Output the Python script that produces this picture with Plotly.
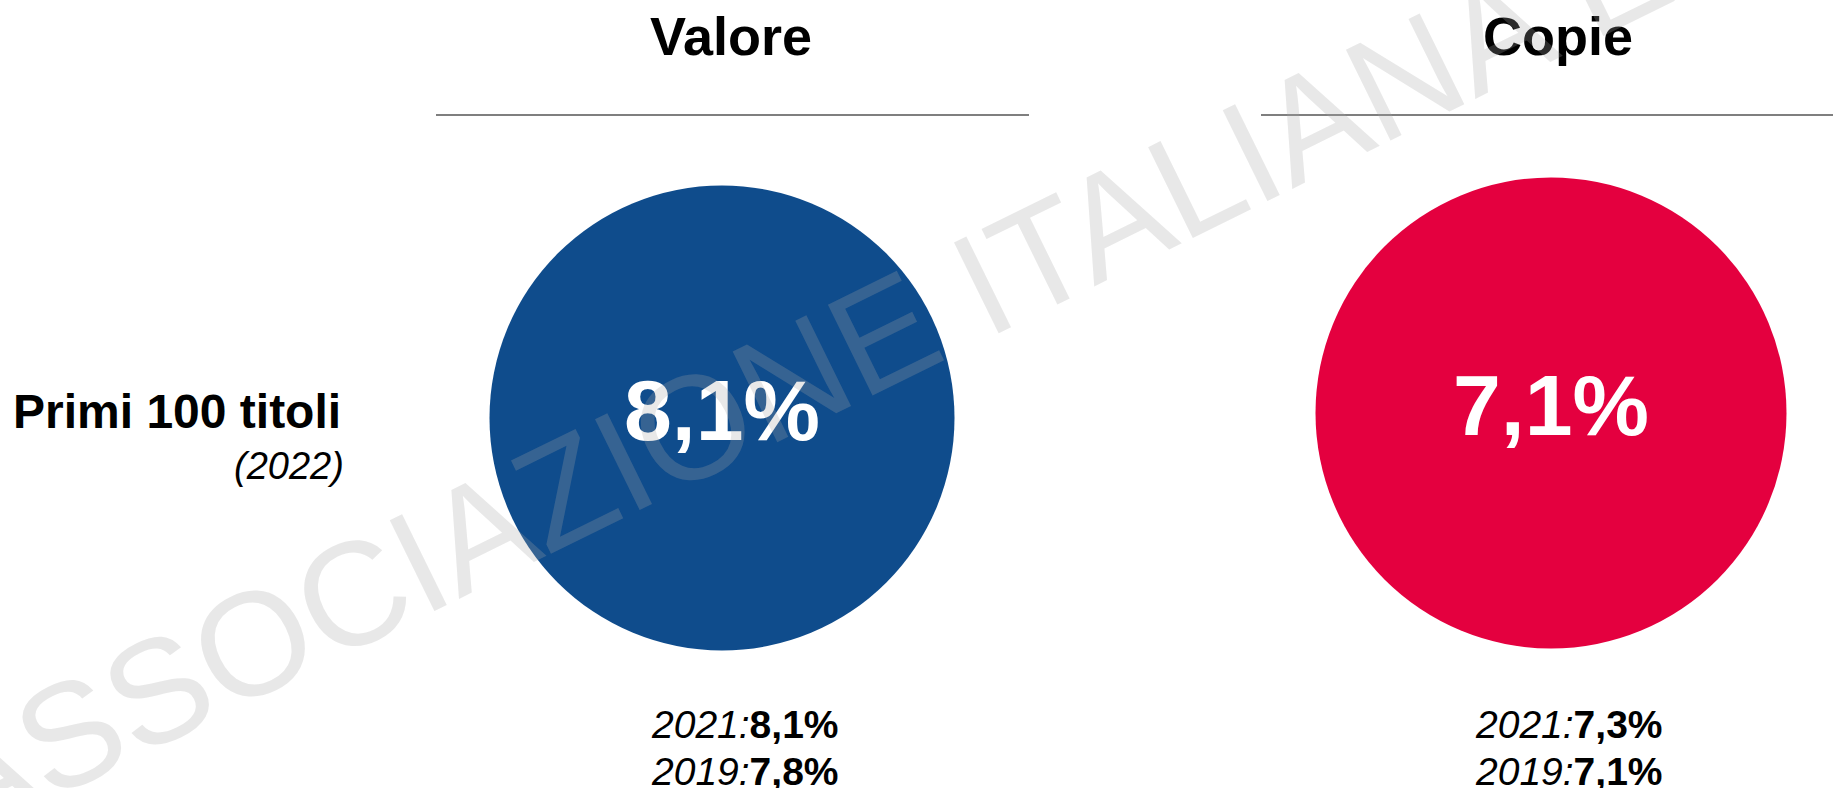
import plotly.graph_objects as go

# data
metrics = ["Valore", "Copie"]
share_2022 = [8.1, 7.1]
share_2021 = [8.1, 7.3]
share_2019 = [7.8, 7.1]
row_label = "Primi 100 titoli"
row_year = "(2022)"
circle_colors = ["#0F4C8C", "#E4003F"]
watermark = "ASSOCIAZIONE ITALIANA EDITORI"

W, H = 1833, 788
FONT = "Liberation Sans, Arial, sans-serif"

# layout positions (window pixel space)
circle_x = [722, 1551]
circle_y = [418, 413]
circle_d = [465, 471]
title_x = [731, 1558]
note_x = [745, 1569]
rule_x = [(436, 1029), (1261, 1845)]


def pct( v ):
    return f"{v:.1f}".replace( ".", "," ) + "%"


fig = go.Figure()
fig.add_trace( go.Scatter( x=circle_x, y=circle_y,
                           mode="markers+text",
                           marker={ "size": circle_d, "color": circle_colors, "opacity": 1,
                                    "line": { "width": 0 } },
                           text=[pct( v ) for v in share_2022],
                           textposition="middle center",
                           textfont={ "family": FONT, "size": 86, "color": "white", "weight": "bold" },
                           hoverinfo="skip", showlegend=False ) )

for i, m in enumerate( metrics ):
    fig.add_annotation( x=title_x[i], y=36, text=f"<b>{m}</b>", showarrow=False,
                        xanchor="center", yanchor="middle",
                        font={ "family": FONT, "size": 54, "color": "black" } )
    x0, x1 = rule_x[i]
    fig.add_shape( type="line", xref="x", yref="y", x0=x0, x1=x1, y0=115, y1=115,
                   line={ "color": "#555555", "width": 1.5 } )
    fig.add_annotation( x=note_x[i], y=724, text=f"<i>2021:</i><b>{pct( share_2021[i] )}</b>",
                        showarrow=False, xanchor="center", yanchor="middle",
                        font={ "family": FONT, "size": 39, "color": "black" } )
    fig.add_annotation( x=note_x[i], y=771, text=f"<i>2019:</i><b>{pct( share_2019[i] )}</b>",
                        showarrow=False, xanchor="center", yanchor="middle",
                        font={ "family": FONT, "size": 39, "color": "black" } )

fig.add_annotation( x=343, y=411, text=f"<b>{row_label}</b>", showarrow=False,
                    xanchor="right", yanchor="middle",
                    font={ "family": FONT, "size": 48, "color": "black" } )
fig.add_annotation( x=346, y=466, text=f"<i>{row_year}</i>", showarrow=False,
                    xanchor="right", yanchor="middle",
                    font={ "family": FONT, "size": 38, "color": "black" } )

# watermark on top
fig.add_annotation( x=1020, y=266, text=watermark, showarrow=False, textangle=-26.2,
                    xanchor="center", yanchor="middle",
                    font={ "family": FONT, "size": 147, "color": "rgba(167,167,167,0.26)" } )

fig.update_xaxes( range=[0, W], visible=False, fixedrange=True )
fig.update_yaxes( range=[H, 0], visible=False, fixedrange=True )
fig.update_layout( width=W, height=H,
                   plot_bgcolor="#ffffff",
                   paper_bgcolor="#ffffff",
                   margin={"r":0,"t":0,"l":0,"b":0} )

# drop the default page margin so the figure fills the window
fig.write_html( "out.html",
                config={ "displayModeBar": False, "staticPlot": True },
                post_script="document.body.style.margin='0';document.body.style.overflow='hidden';" )
